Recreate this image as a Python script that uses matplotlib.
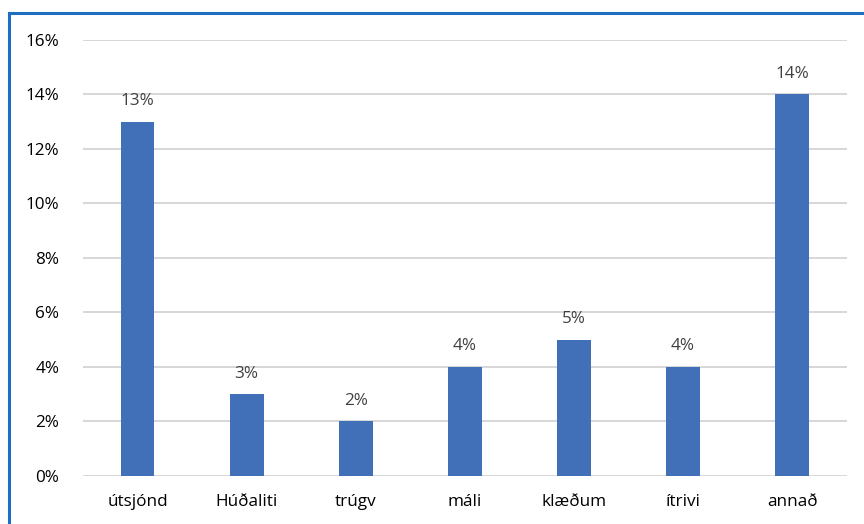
import matplotlib.pyplot as plt
from matplotlib.lines import Line2D
from matplotlib.ticker import FuncFormatter

categories = ['útsjónd', 'Húðaliti', 'trúgv', 'máli', 'klæðum', 'ítrivi', 'annað']
values = [13, 3, 2, 4, 5, 4, 14]
yticks = [0, 2, 4, 6, 8, 10, 12, 14, 16]

plt.rcParams['font.family'] = ['Open Sans', 'DejaVu Sans']

fig = plt.figure(figsize=(8.64, 5.24), dpi=100)
ax = fig.add_axes([0.096, 0.0916, 0.884, 0.8321])

x = range(len(categories))
bars = ax.bar(x, values, width=0.31, color='#4170B9', zorder=3)

for b, v in zip(bars, values):
    ax.annotate(f'{v}%', (b.get_x() + b.get_width() / 2, v),
                xytext=(0, 9), textcoords='offset points',
                ha='center', va='bottom', fontsize=12.3, color='#404040')

ax.set_xlim(-0.5, len(categories) - 0.5)
ax.set_ylim(0, 16)
ax.set_yticks(yticks)
ax.yaxis.set_major_formatter(FuncFormatter(lambda v, p: f'{v:.0f}%'))
ax.set_xticks(list(x))
ax.set_xticklabels(categories)
ax.tick_params(axis='both', length=0, labelsize=12.3, colors='#000000')
ax.tick_params(axis='x', pad=13)
ax.tick_params(axis='y', pad=17)
ax.grid(axis='y', color='#D4D4D4', linewidth=1.3, zorder=0)
for s in ax.spines.values():
    s.set_visible(False)

# frame of the surrounding box (top and left edges)
fig.add_artist(Line2D([0.0104, 1.0], [0.975, 0.975], transform=fig.transFigure,
                      color='#1F6FC0', linewidth=2.2))
fig.add_artist(Line2D([0.0104, 0.0104], [0.0, 0.975], transform=fig.transFigure,
                      color='#1F6FC0', linewidth=2.2))

fig.savefig('out.png', dpi=100)
